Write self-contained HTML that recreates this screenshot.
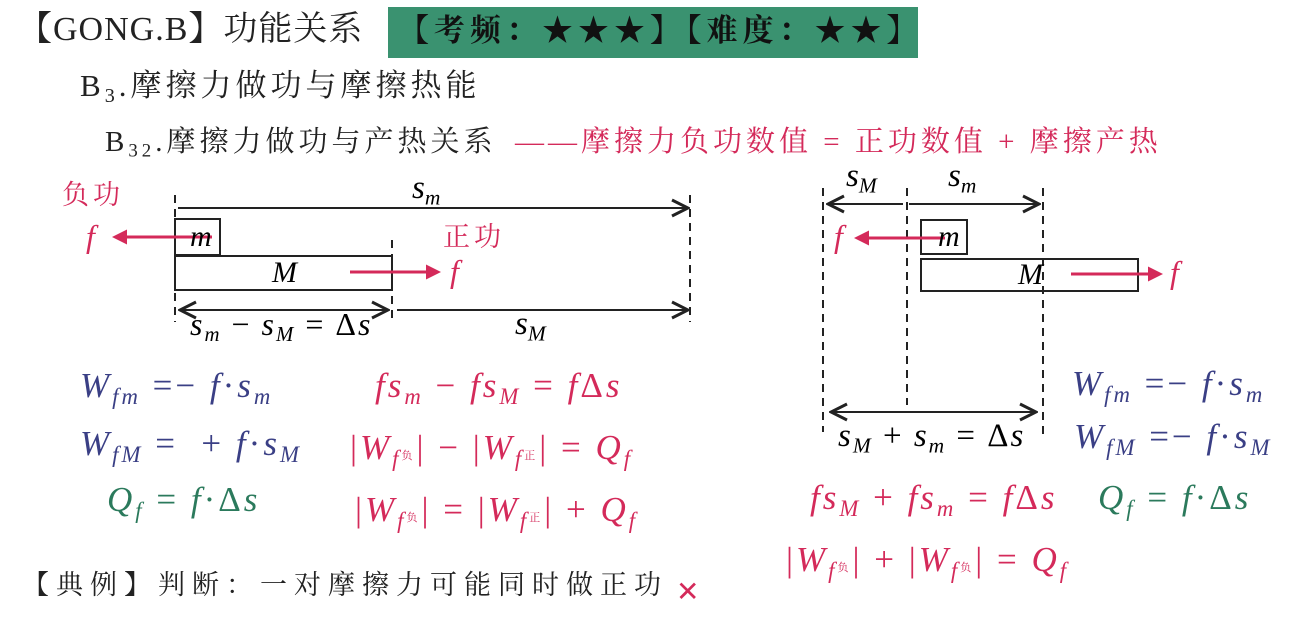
<!DOCTYPE html>
<html><head><meta charset="utf-8"><style>
body{margin:0;width:1311px;height:626px;background:#fff;position:relative;overflow:hidden;font-family:"Liberation Serif","Noto Serif CJK SC",serif;}
.a{position:absolute;white-space:nowrap;line-height:1;}
.r{color:#d42a5a}.b{color:#3a3f85}.g{color:#2b7a5c}
.f{font-size:35px;letter-spacing:3px;}
i{font-family:"Liberation Serif",serif;}
sub{font-size:65%;vertical-align:-0.3em;}
.t{font-size:11px;letter-spacing:0;margin-right:4px;}
</style></head><body>
<div class="a" style="left:388px;top:7px;width:530px;height:51px;background:#3a9270;"></div>
<div class="a" style="left:18px;top:13px;font-size:34px;color:#222;letter-spacing:1px;">【GONG.B】功能关系</div>
<div class="a" style="left:398px;top:15px;font-size:31px;color:#111;font-weight:bold;letter-spacing:5px;">【考频：★★★】【难度：★★】</div>
<div class="a" style="left:80px;top:70px;font-size:31px;color:#222;letter-spacing:4px;">B<sub>3</sub>.摩擦力做功与摩擦热能</div>
<div class="a" style="left:105px;top:128px;font-size:29px;color:#222;letter-spacing:4px;">B<sub>32</sub>.摩擦力做功与产热关系</div>
<div class="a r" style="left:515px;top:128px;font-size:29px;letter-spacing:4px;">——摩擦力负功数值 = 正功数值 + 摩擦产热</div>

<svg class="a" style="left:0;top:0" width="1311" height="626">
<defs>
<marker id="k" markerWidth="10" markerHeight="10" refX="9" refY="5" orient="auto-start-reverse"><path d="M1,1 L9,5 L1,9" fill="none" stroke="#222" stroke-width="1.5"/></marker>
<marker id="rr" markerWidth="5" markerHeight="5" refX="4" refY="2.5" orient="auto"><path d="M0,0 L5,2.5 L0,5z" fill="#d42a5a"/></marker>
</defs>
<g stroke="#222" stroke-width="2" fill="none">
<line x1="175" y1="195" x2="175" y2="322" stroke-dasharray="8,6"/>
<line x1="690" y1="195" x2="690" y2="322" stroke-dasharray="8,6"/>
<line x1="392" y1="240" x2="392" y2="322" stroke-dasharray="8,6"/>
<line x1="178" y1="208" x2="688" y2="208" marker-end="url(#k)"/>
<line x1="180" y1="310" x2="388" y2="310" marker-start="url(#k)" marker-end="url(#k)"/>
<line x1="397" y1="310" x2="688" y2="310" marker-end="url(#k)"/>
<rect x="175" y="219" width="45" height="36"/>
<rect x="175" y="256" width="217" height="34"/>
<line x1="823" y1="188" x2="823" y2="432" stroke-dasharray="8,6"/>
<line x1="907" y1="188" x2="907" y2="405" stroke-dasharray="8,6"/>
<line x1="1043" y1="188" x2="1043" y2="435" stroke-dasharray="8,6"/>
<line x1="903" y1="204" x2="828" y2="204" marker-end="url(#k)"/>
<line x1="909" y1="204" x2="1039" y2="204" marker-end="url(#k)"/>
<line x1="831" y1="412" x2="1036" y2="412" marker-start="url(#k)" marker-end="url(#k)"/>
<rect x="921" y="220" width="46" height="34"/>
<rect x="921" y="259" width="217" height="32"/>
</g>
<g stroke="#d42a5a" stroke-width="3">
<line x1="212" y1="237" x2="115" y2="237" marker-end="url(#rr)"/>
<line x1="350" y1="272" x2="438" y2="272" marker-end="url(#rr)"/>
<line x1="945" y1="238" x2="857" y2="238" marker-end="url(#rr)"/>
<line x1="1071" y1="274" x2="1160" y2="274" marker-end="url(#rr)"/>
</g>
</svg>

<div class="a r" style="left:62px;top:182px;font-size:27px;letter-spacing:4px;">负功</div>
<div class="a r" style="left:86px;top:220px;font-size:32px;"><i>f</i></div>
<div class="a" style="left:190px;top:222px;font-size:30px;"><i>m</i></div>
<div class="a" style="left:272px;top:258px;font-size:30px;"><i>M</i></div>
<div class="a r" style="left:443px;top:224px;font-size:27px;letter-spacing:4px;">正功</div>
<div class="a r" style="left:450px;top:255px;font-size:32px;"><i>f</i></div>
<div class="a" style="left:412px;top:172px;font-size:33px;"><i>s<sub>m</sub></i></div>
<div class="a" style="left:190px;top:308px;font-size:32px;letter-spacing:2px;"><i>s<sub>m</sub></i> − <i>s<sub>M</sub></i> = Δ<i>s</i></div>
<div class="a" style="left:515px;top:308px;font-size:33px;"><i>s<sub>M</sub></i></div>

<div class="a" style="left:846px;top:160px;font-size:33px;"><i>s<sub>M</sub></i></div>
<div class="a" style="left:948px;top:160px;font-size:33px;"><i>s<sub>m</sub></i></div>
<div class="a r" style="left:834px;top:220px;font-size:32px;"><i>f</i></div>
<div class="a" style="left:938px;top:222px;font-size:30px;"><i>m</i></div>
<div class="a" style="left:1018px;top:260px;font-size:30px;"><i>M</i></div>
<div class="a r" style="left:1170px;top:256px;font-size:32px;"><i>f</i></div>
<div class="a" style="left:838px;top:420px;font-size:33px;letter-spacing:2px;"><i>s<sub>M</sub></i> + <i>s<sub>m</sub></i> = Δ<i>s</i></div>

<div class="a b f" style="left:80px;top:368px;"><i>W<sub>fm</sub></i> =− <i>f</i>·<i>s<sub>m</sub></i></div>
<div class="a b f" style="left:80px;top:426px;"><i>W<sub>fM</sub></i> = &nbsp;+ <i>f</i>·<i>s<sub>M</sub></i></div>
<div class="a g f" style="left:107px;top:482px;"><i>Q<sub>f</sub></i> = <i>f</i>·Δ<i>s</i></div>
<div class="a r f" style="left:375px;top:368px;"><i>fs<sub>m</sub></i> − <i>fs<sub>M</sub></i> = <i>f</i>Δ<i>s</i></div>
<div class="a r f" style="left:350px;top:430px;">|<i>W<sub>f</sub></i><span class="t">负</span>| − |<i>W<sub>f</sub></i><span class="t">正</span>| = <i>Q<sub>f</sub></i></div>
<div class="a r f" style="left:355px;top:492px;">|<i>W<sub>f</sub></i><span class="t">负</span>| = |<i>W<sub>f</sub></i><span class="t">正</span>| + <i>Q<sub>f</sub></i></div>

<div class="a b f" style="left:1072px;top:366px;"><i>W<sub>fm</sub></i> =− <i>f</i>·<i>s<sub>m</sub></i></div>
<div class="a b f" style="left:1074px;top:419px;"><i>W<sub>fM</sub></i> =− <i>f</i>·<i>s<sub>M</sub></i></div>
<div class="a r f" style="left:810px;top:480px;"><i>fs<sub>M</sub></i> + <i>fs<sub>m</sub></i> = <i>f</i>Δ<i>s</i></div>
<div class="a g f" style="left:1098px;top:480px;"><i>Q<sub>f</sub></i> = <i>f</i>·Δ<i>s</i></div>
<div class="a r f" style="left:786px;top:542px;">|<i>W<sub>f</sub></i><span class="t">负</span>| + |<i>W<sub>f</sub></i><span class="t">负</span>| = <i>Q<sub>f</sub></i></div>

<div class="a" style="left:22px;top:572px;font-size:27px;color:#222;letter-spacing:7px;">【典例】判断：一对摩擦力可能同时做正功</div>
<div class="a r" style="left:676px;top:578px;font-size:28px;font-family:'DejaVu Sans',sans-serif;">✕</div>
</body></html>
